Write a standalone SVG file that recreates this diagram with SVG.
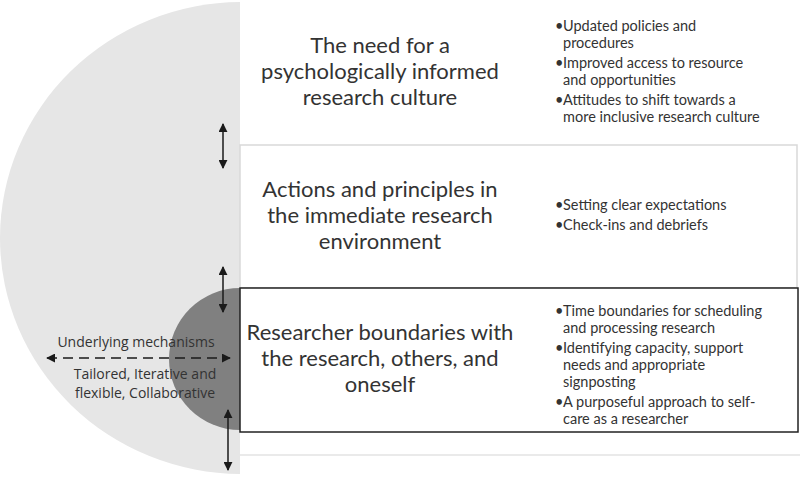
<svg xmlns="http://www.w3.org/2000/svg" width="800" height="481" viewBox="0 0 800 481">
  <defs>
    <marker id="ah" viewBox="0 0 10 10" refX="9" refY="5" markerWidth="9" markerHeight="9" markerUnits="userSpaceOnUse" orient="auto-start-reverse">
      <path d="M0,0 L10,5 L0,10 z" fill="#1a1a1a"/>
    </marker>
    <clipPath id="leftHalf"><rect x="0" y="0" width="240" height="481"/></clipPath>
  </defs>
  <style>
    .title { font-family: "Lato", "Open Sans", sans-serif; font-size: 22px; fill: #333; text-anchor: middle; }
    .bul { font-family: "Lato", "Open Sans", sans-serif; font-size: 14.5px; fill: #333; }
    .side { font-family: "Open Sans", "Lato", sans-serif; font-size: 14px; fill: #333; text-anchor: middle; }
    .conn { stroke: #1a1a1a; stroke-width: 1.5; fill: none; }
  </style>
  <rect x="0" y="0" width="800" height="481" fill="#ffffff"/>
  <!-- large background half circle -->
  <g id="background-circle">
    <ellipse cx="242" cy="238" rx="242" ry="236" fill="#e6e6e6" clip-path="url(#leftHalf)"/>
    <line x1="240" y1="455" x2="800" y2="455" stroke="#e3e3e3" stroke-width="1.5"/>
  </g>
  <!-- level 1 -->
  <g id="node-culture">
    <text class="title" x="380" y="53">The need for a</text>
    <text class="title" x="380" y="79">psychologically informed</text>
    <text class="title" x="380" y="105">research culture</text>
    <text class="bul" x="555" y="31">•</text><text class="bul" x="563" y="31">Updated policies and</text>
    <text class="bul" x="563" y="48">procedures</text>
    <text class="bul" x="555" y="68">•</text><text class="bul" x="563" y="68">Improved access to resource</text>
    <text class="bul" x="563" y="85">and opportunities</text>
    <text class="bul" x="555" y="105">•</text><text class="bul" x="563" y="105">Attitudes to shift towards a</text>
    <text class="bul" x="563" y="122">more inclusive research culture</text>
  </g>
  <!-- level 2 -->
  <g id="node-environment">
    <rect x="240" y="145" width="557" height="143" fill="#ffffff" stroke="#d9d9d9" stroke-width="1.5"/>
    <text class="title" x="380" y="197">Actions and principles in</text>
    <text class="title" x="380" y="223">the immediate research</text>
    <text class="title" x="380" y="249">environment</text>
    <text class="bul" x="555" y="210">•</text><text class="bul" x="563" y="210">Setting clear expectations</text>
    <text class="bul" x="555" y="230">•</text><text class="bul" x="563" y="230">Check-ins and debriefs</text>
  </g>
  <!-- level 3 -->
  <g id="inner-circle">
    <circle cx="240" cy="359" r="71" fill="#808080" clip-path="url(#leftHalf)"/>
  </g>
  <g id="node-boundaries">
    <rect x="240" y="288" width="558" height="144" fill="#ffffff" stroke="#222" stroke-width="1.5"/>
    <text class="title" x="380" y="340">Researcher boundaries with</text>
    <text class="title" x="380" y="366">the research, others, and</text>
    <text class="title" x="380" y="392">oneself</text>
    <text class="bul" x="555" y="316">•</text><text class="bul" x="563" y="316">Time boundaries for scheduling</text>
    <text class="bul" x="563" y="333">and processing research</text>
    <text class="bul" x="555" y="353">•</text><text class="bul" x="563" y="353">Identifying capacity, support</text>
    <text class="bul" x="563" y="370">needs and appropriate</text>
    <text class="bul" x="563" y="387">signposting</text>
    <text class="bul" x="555" y="407">•</text><text class="bul" x="563" y="407">A purposeful approach to self-</text>
    <text class="bul" x="563" y="424">care as a researcher</text>
  </g>
  <g id="node-mechanisms">
    <text class="side" x="136" y="347">Underlying mechanisms</text>
    <text class="side" x="145" y="379">Tailored, Iterative and</text>
    <text class="side" x="145" y="398">flexible, Collaborative</text>
  </g>
  <g id="connectors">
    <line class="conn" x1="223" y1="124" x2="223" y2="168" marker-start="url(#ah)" marker-end="url(#ah)"/>
    <line class="conn" x1="223" y1="267" x2="223" y2="312" marker-start="url(#ah)" marker-end="url(#ah)"/>
    <line class="conn" x1="228" y1="410" x2="228" y2="470" marker-start="url(#ah)" marker-end="url(#ah)"/>
    <line class="conn" x1="47" y1="358" x2="230" y2="358" stroke-width="2.5" stroke-dasharray="10 6" marker-start="url(#ah)" marker-end="url(#ah)"/>
  </g>
</svg>
